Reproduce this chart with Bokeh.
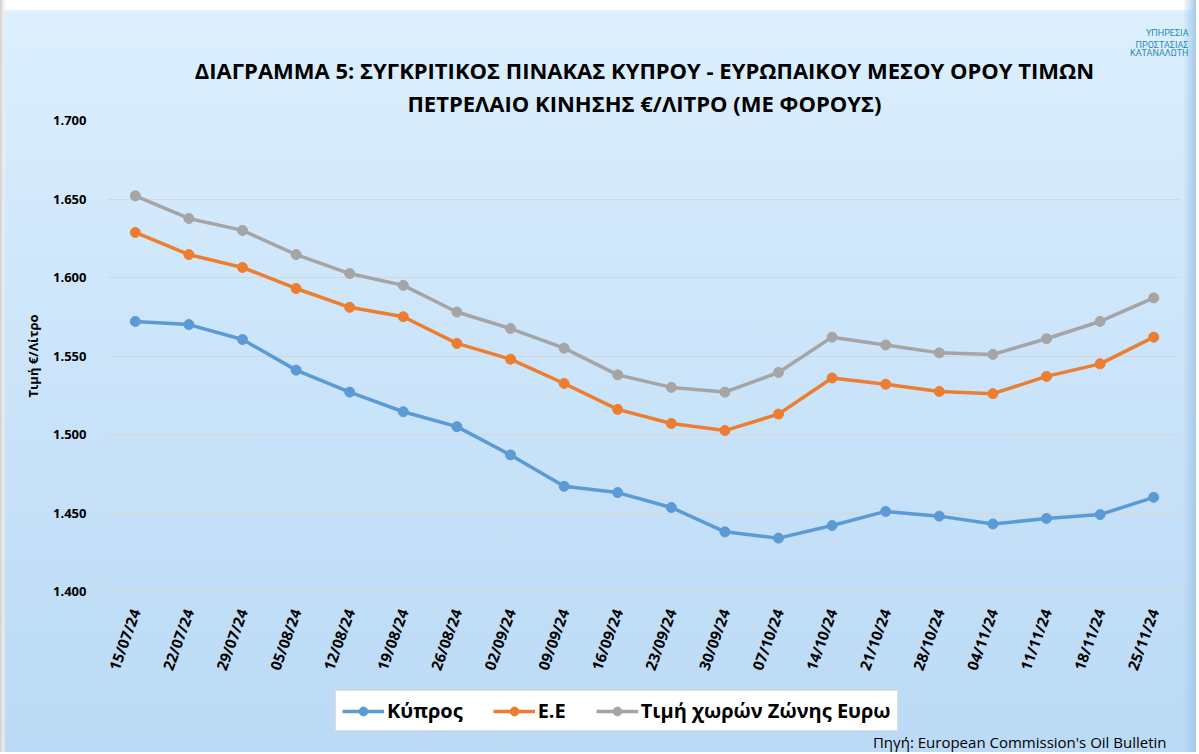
from bokeh.plotting import figure
from bokeh.layouts import column
from bokeh.models import (FactorRange, Range1d, FixedTicker, NumeralTickFormatter,
                          Legend, LegendItem, Title, Label)
from bokeh.embed import file_html
from bokeh.resources import INLINE
import math

dates = ["15/07/24", "22/07/24", "29/07/24", "05/08/24", "12/08/24", "19/08/24",
         "26/08/24", "02/09/24", "09/09/24", "16/09/24", "23/09/24", "30/09/24",
         "07/10/24", "14/10/24", "21/10/24", "28/10/24", "04/11/24", "11/11/24",
         "18/11/24", "25/11/24"]
cyprus = [1.572, 1.570, 1.5605, 1.541, 1.527, 1.5145, 1.505, 1.487, 1.467, 1.463,
          1.4535, 1.438, 1.434, 1.442, 1.451, 1.448, 1.443, 1.4465, 1.449, 1.460]
eu = [1.6287, 1.6146, 1.6064, 1.593, 1.581, 1.575, 1.558, 1.548, 1.5325, 1.516,
      1.507, 1.5025, 1.513, 1.536, 1.532, 1.5274, 1.526, 1.537, 1.545, 1.562]
euro_zone = [1.652, 1.6376, 1.630, 1.6146, 1.6025, 1.595, 1.578, 1.5675, 1.555, 1.538,
             1.530, 1.527, 1.5395, 1.562, 1.557, 1.552, 1.551, 1.561, 1.572, 1.587]
series_names = ["Κύπρος", "Ε.Ε", "Τιμή χωρών Ζώνης Ευρω"]
series_colors = ["#5B9BD5", "#ED7D31", "#A5A5A5"]
y_ticks = [1.40, 1.45, 1.50, 1.55, 1.60, 1.65, 1.70]
title_lines = ["ΔΙΑΓΡΑΜΜΑ 5: ΣΥΓΚΡΙΤΙΚΟΣ ΠΙΝΑΚΑΣ ΚΥΠΡΟΥ - ΕΥΡΩΠΑΙΚΟΥ ΜΕΣΟΥ ΟΡΟΥ ΤΙΜΩΝ",
               "ΠΕΤΡΕΛΑΙΟ ΚΙΝΗΣΗΣ €/ΛΙΤΡΟ (ΜΕ ΦΟΡΟΥΣ)"]
logo_lines = ["ΥΠΗΡΕΣΙΑ", "ΠΡΟΣΤΑΣΙΑΣ", "ΚΑΤΑΝΑΛΩΤΗ"]
source_text = "Πηγή: European Commission's Oil Bulletin"
series = [cyprus, eu, euro_zone]

FONT = "Open Sans"
W, H_MAIN, H_FOOT = 1196, 685, 67
FOOT_TOP = -100  # footer y-range sits far from the series values

p = figure(width=W, height=H_MAIN, output_backend="svg", toolbar_location=None,
           title=None, x_range=FactorRange(*dates), y_range=Range1d(1.4, 1.7),
           min_border_left=108, min_border_right=16, min_border_top=120,
           min_border_bottom=94)
p.background_fill_alpha = 0
p.border_fill_alpha = 0
p.outline_line_color = None

p.xgrid.grid_line_color = None
p.ygrid.grid_line_color = "#D6D6D6"
p.ygrid.grid_line_width = 1

p.yaxis.ticker = FixedTicker(ticks=y_ticks)
p.yaxis.formatter = NumeralTickFormatter(format="0.000")
p.yaxis.axis_line_color = None
p.yaxis.major_tick_line_color = None
p.yaxis.minor_tick_line_color = None
p.yaxis.major_label_text_font = FONT
p.yaxis.major_label_text_font_style = "bold"
p.yaxis.major_label_text_font_size = "13px"
p.yaxis.major_label_text_color = "#000000"
p.yaxis.major_label_standoff = 16
p.yaxis.axis_label = "Τιμή €/Λίτρο"
p.yaxis.axis_label_text_font = FONT
p.yaxis.axis_label_text_font_style = "bold"
p.yaxis.axis_label_text_font_size = "13px"
p.yaxis.axis_label_text_color = "#000000"
p.yaxis.axis_label_standoff = 8

p.xaxis.axis_line_color = "#D6D6D6"
p.xaxis.major_tick_line_color = None
p.xaxis.minor_tick_line_color = None
p.xaxis.major_label_orientation = math.radians(70)
p.xaxis.major_label_text_font = FONT
p.xaxis.major_label_text_font_style = "bold"
p.xaxis.major_label_text_font_size = "15px"
p.xaxis.major_label_text_color = "#000000"
p.xaxis.major_label_standoff = 12

for vals, col in zip(series, series_colors):
    p.line(dates, vals, line_color=col, line_width=3.5)
    p.scatter(dates, vals, size=10, fill_color=col, line_color=col)

title_kw = dict(align="center", text_font=FONT, text_font_style="bold",
                text_font_size="22px", text_color="#000000")
p.add_layout(Title(text=title_lines[1], standoff=6, **title_kw), "above")
p.add_layout(Title(text=title_lines[0], standoff=-4, **title_kw), "above")
for i, t in enumerate(reversed(logo_lines)):
    p.add_layout(Title(text=t, align="right", text_font="Roboto", text_font_style="normal",
                       text_font_size="9px", text_color="#1E8CB8",
                       standoff=(-7 if i == 0 else 0), offset=-8), "above")

# footer figure (frame aligned with the chart) holding the legend and the source note;
# its copies of the series lie far outside its y-range and only feed the legend glyphs
f = figure(width=W, height=H_FOOT, output_backend="svg", toolbar_location=None,
           title=None, x_range=FactorRange(*dates),
           y_range=Range1d(FOOT_TOP - H_FOOT, FOOT_TOP),
           min_border=0, x_axis_type=None, y_axis_type=None)
f.background_fill_alpha = 0
f.border_fill_alpha = 0
f.outline_line_color = None
f.grid.visible = False

items = []
for name, vals, col in zip(series_names, series, series_colors):
    r1 = f.line(dates, vals, line_color=col, line_width=3.5)
    r2 = f.scatter(dates, vals, size=8, fill_color=col, line_color=col)
    items.append(LegendItem(label=name, renderers=[r1, r2]))

legend = Legend(items=items, orientation="horizontal", location=(227, 21),
                label_text_font=FONT, label_text_font_style="bold",
                label_text_font_size="20px", label_text_color="#000000",
                glyph_width=42, glyph_height=22, spacing=30, padding=6,
                margin=0, label_standoff=3,
                border_line_color="#BFBFBF", background_fill_color="#FFFFFF",
                background_fill_alpha=1.0)
f.add_layout(legend, "center")

f.add_layout(Label(x=1058, y=FOOT_TOP - H_FOOT + 11, x_units="screen", text=source_text,
                   text_font=FONT, text_font_size="15px", text_color="#000000",
                   text_align="right", text_baseline="middle"))

layout = column(p, f, spacing=0)
layout.styles = {"background":
                 "linear-gradient(to right, #CFCFCF 0px, #EDEDED 3px, rgba(255,255,255,0) 6px), "
                 "linear-gradient(to right, rgba(0,0,0,0) 98.9%, #A6C8E8 100%), "
                 "linear-gradient(to bottom, #FFFFFF 0px, #FFFFFF 9px, #DDEFFD 11px, "
                 "#CCE5FA 45%, #BBDAF5 100%)"}

open("out.html", "w").write(file_html(layout, INLINE))
